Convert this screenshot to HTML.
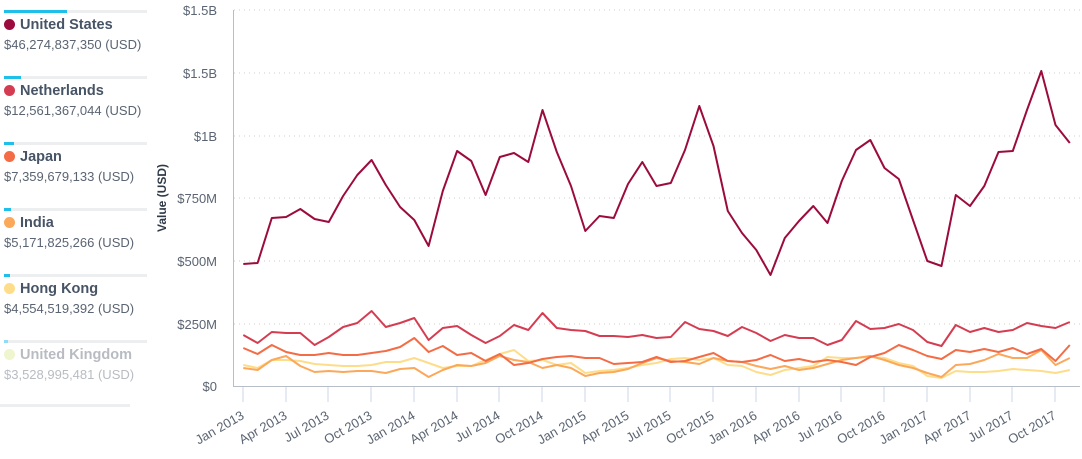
<!DOCTYPE html>
<html><head><meta charset="utf-8"><style>
body{margin:0;width:1082px;height:459px;background:#fff;font-family:"Liberation Sans",sans-serif;overflow:hidden;position:relative}
.it{position:absolute;left:4px;width:143px}
.bar{height:3px;background:#eceef0;position:relative}
.bar i{position:absolute;left:0;top:0;height:3px;background:#1ec0ea}
.t{font-weight:bold;font-size:14.5px;color:#475466;margin-top:4px;padding-left:16px;position:relative;line-height:16px}
.t b{position:absolute;left:0;top:2px;width:11px;height:11px;border-radius:50%}
.v{font-size:13px;color:#5a6472;margin-top:4px}
</style></head><body>
<div class="it" style="top:10px"><div class="bar"><i style="width:63px"></i></div><div class="t"><b style="background:#9b0b3d"></b>United States</div><div class="v">$46,274,837,350 (USD)</div></div>
<div class="it" style="top:76px"><div class="bar"><i style="width:17px"></i></div><div class="t"><b style="background:#d43d51"></b>Netherlands</div><div class="v">$12,561,367,044 (USD)</div></div>
<div class="it" style="top:142px"><div class="bar"><i style="width:10px"></i></div><div class="t"><b style="background:#f36c45"></b>Japan</div><div class="v">$7,359,679,133 (USD)</div></div>
<div class="it" style="top:208px"><div class="bar"><i style="width:7px"></i></div><div class="t"><b style="background:#fba85a"></b>India</div><div class="v">$5,171,825,266 (USD)</div></div>
<div class="it" style="top:274px"><div class="bar"><i style="width:6px"></i></div><div class="t"><b style="background:#fedd8a"></b>Hong Kong</div><div class="v">$4,554,519,392 (USD)</div></div>
<div class="it" style="top:340px"><div class="bar"><i style="width:4px;background:#90dcf2"></i></div><div class="t" style="color:#b8bcc2"><b style="background:#eef5cf"></b>United Kingdom</div><div class="v" style="color:#b8bcc2">$3,528,995,481 (USD)</div></div>
<div style="position:absolute;left:0;top:404px;width:130px;height:3px;background:#eceef0"></div>
<svg width="1082" height="459" style="position:absolute;left:0;top:0" font-family="Liberation Sans, sans-serif">
<g stroke="#ccc" stroke-dasharray="1,4" stroke-width="1">
<line x1="234" x2="1080" y1="10" y2="10"/><line x1="234" x2="1080" y1="73" y2="73"/><line x1="234" x2="1080" y1="136" y2="136"/><line x1="234" x2="1080" y1="198" y2="198"/><line x1="234" x2="1080" y1="261" y2="261"/><line x1="234" x2="1080" y1="324" y2="324"/>
</g>
<path d="M233.5 10V386.5H1080" fill="none" stroke="#b7bec8"/>
<g stroke="#ccd6e6"><line x1="243" x2="243" y1="387" y2="402"/><line x1="286" x2="286" y1="387" y2="402"/><line x1="328" x2="328" y1="387" y2="402"/><line x1="371" x2="371" y1="387" y2="402"/><line x1="414" x2="414" y1="387" y2="402"/><line x1="457" x2="457" y1="387" y2="402"/><line x1="499" x2="499" y1="387" y2="402"/><line x1="542" x2="542" y1="387" y2="402"/><line x1="585" x2="585" y1="387" y2="402"/><line x1="628" x2="628" y1="387" y2="402"/><line x1="670" x2="670" y1="387" y2="402"/><line x1="713" x2="713" y1="387" y2="402"/><line x1="756" x2="756" y1="387" y2="402"/><line x1="799" x2="799" y1="387" y2="402"/><line x1="841" x2="841" y1="387" y2="402"/><line x1="884" x2="884" y1="387" y2="402"/><line x1="927" x2="927" y1="387" y2="402"/><line x1="970" x2="970" y1="387" y2="402"/><line x1="1012" x2="1012" y1="387" y2="402"/><line x1="1055" x2="1055" y1="387" y2="402"/></g>
<g font-size="13" fill="#5a6472" text-anchor="end">
<text x="217" y="15">$1.5B</text><text x="217" y="78">$1.5B</text><text x="217" y="141">$1B</text><text x="217" y="203">$750M</text><text x="217" y="266">$500M</text><text x="217" y="329">$250M</text><text x="217" y="391">$0</text>
</g>
<text transform="translate(166,198) rotate(-90)" font-size="12" font-weight="bold" fill="#2f3a48" text-anchor="middle">Value (USD)</text>
<g font-size="13" fill="#5a6472" text-anchor="end">
<text transform="translate(245,418) rotate(-30)">Jan 2013</text><text transform="translate(288,418) rotate(-30)">Apr 2013</text><text transform="translate(330,418) rotate(-30)">Jul 2013</text><text transform="translate(373,418) rotate(-30)">Oct 2013</text><text transform="translate(416,418) rotate(-30)">Jan 2014</text><text transform="translate(459,418) rotate(-30)">Apr 2014</text><text transform="translate(501,418) rotate(-30)">Jul 2014</text><text transform="translate(544,418) rotate(-30)">Oct 2014</text><text transform="translate(587,418) rotate(-30)">Jan 2015</text><text transform="translate(630,418) rotate(-30)">Apr 2015</text><text transform="translate(672,418) rotate(-30)">Jul 2015</text><text transform="translate(715,418) rotate(-30)">Oct 2015</text><text transform="translate(758,418) rotate(-30)">Jan 2016</text><text transform="translate(801,418) rotate(-30)">Apr 2016</text><text transform="translate(843,418) rotate(-30)">Jul 2016</text><text transform="translate(886,418) rotate(-30)">Oct 2016</text><text transform="translate(929,418) rotate(-30)">Jan 2017</text><text transform="translate(972,418) rotate(-30)">Apr 2017</text><text transform="translate(1014,418) rotate(-30)">Jul 2017</text><text transform="translate(1057,418) rotate(-30)">Oct 2017</text>
</g>
<g fill="none" stroke-width="2" stroke-linejoin="round" id="g"></g>
</svg>
<script>
var xs=function(i){return 243.3+i*14.25};
var S=[
["#fedd8a",[365,368,360,360,361,364,365,366,366,365,362,362,358,363,368,366,366,360,354,350,361,360,365,363,373,371,370,368,365,363,359,358,360,358,365,366,372,375,370,368,366,357,358,358,357,358,363,366,376,378,371,372,372,371,369,370,371,373,370]],
["#fba85a",[368,370,360,356,366,372,371,372,371,371,373,369,368,377,370,365,366,363,356,360,362,368,365,368,376,373,372,369,363,358,361,362,364,358,361,362,366,369,366,370,368,364,360,358,356,360,365,368,373,377,365,364,360,354,358,358,350,365,358]],
["#f36c45",[348,354,345,352,355,355,353,355,355,353,351,347,338,352,346,355,353,361,354,365,363,359,357,356,358,358,364,363,362,357,362,361,357,353,361,362,360,355,361,359,362,360,362,365,357,353,345,350,356,359,350,352,349,352,348,354,349,361,345]],
["#d43d51",[335,343,332,333,333,345,337,327,323,311,327,323,318,340,328,326,335,343,336,325,330,313,328,330,331,336,336,337,335,338,337,322,329,331,336,327,333,341,335,338,338,345,340,321,329,328,324,330,342,346,325,332,328,332,330,323,326,328,322]],
["#9b0b3d",[264,263,218,217,209,219,222,196,175,160,185,207,220,246,191,151,161,195,157,153,162,110,152,186,231,216,218,184,162,186,183,150,106,146,211,233,250,275,238,221,206,223,181,150,140,168,179,220,261,266,195,206,186,152,151,110,71,125,143]]];
var g=document.getElementById('g'),h='';
S.forEach(function(s){h+='<polyline stroke="'+s[0]+'" points="'+s[1].map(function(y,i){return xs(i).toFixed(1)+','+y}).join(' ')+'"/>'});
g.innerHTML=h;
</script>
</body></html>
